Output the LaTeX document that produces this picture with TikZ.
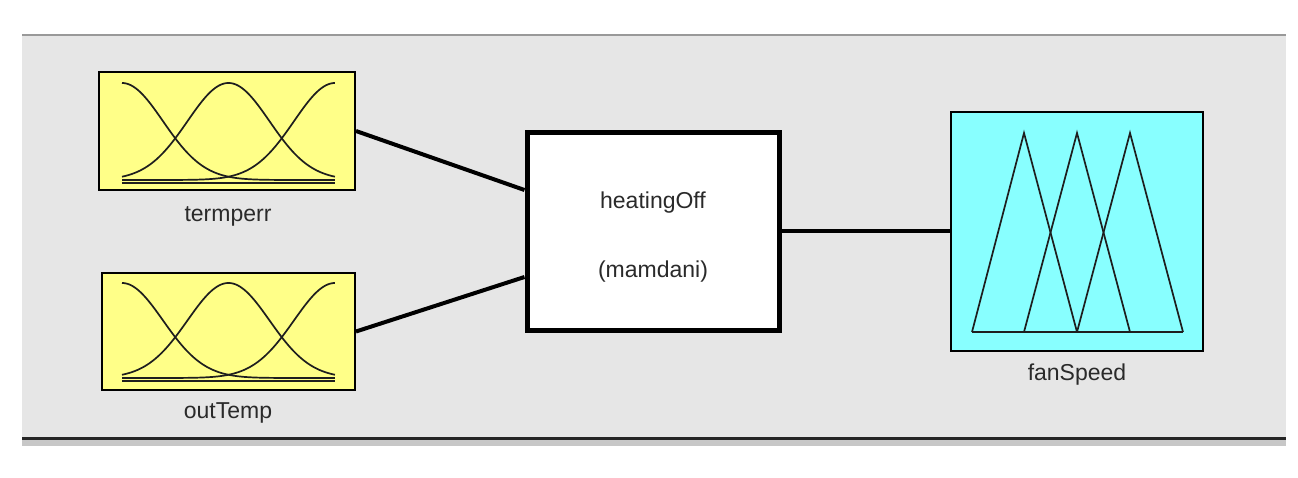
\documentclass[tikz,border=0pt]{standalone}
\usepackage{fontspec}
\setmainfont{Liberation Sans}
\definecolor{panelgray}{HTML}{E6E6E6}
\definecolor{inyel}{HTML}{FFFF88}
\definecolor{outcy}{HTML}{88FFFF}
\definecolor{txtc}{HTML}{2A2A2A}
\definecolor{mfc}{HTML}{1E1E1E}
\begin{document}
\begin{tikzpicture}[x=1pt,y=-1pt,
  varbox/.style={draw=black, line width=2pt, inner sep=0pt},
  rulebox/.style={draw=black, fill=white, line width=5pt, inner sep=0pt},
  conn/.style={line width=4pt, black},
  mf/.style={line width=1.7pt, mfc},
  lbl/.style={font=\fontsize{23}{26}\selectfont, text=txtc, inner sep=0pt, anchor=base}]
\fill[white] (0,0) rectangle (1298,478);
\useasboundingbox (0,0) rectangle (1298,478);
% panel
\fill[panelgray] (22,35) rectangle (1286,438);
\fill[black!22] (22,439) rectangle (1286,446);
\draw[black!40, line width=2pt] (22,35) -- (1286,35);
\draw[black!85, line width=2.2pt] (22,438.5) -- (1286,438.5);
% boxes
\node[varbox, fill=inyel, minimum width=256pt, minimum height=118pt] (termperr) at (227,131) {};
\node[varbox, fill=inyel, minimum width=253pt, minimum height=117pt] (outTemp) at (228.5,331.5) {};
\node[rulebox, minimum width=252pt, minimum height=197pt] (rule) at (653,231.5) {};
\node[varbox, fill=outcy, minimum width=252pt, minimum height=239pt] (fanSpeed) at (1077,231.5) {};
% membership functions: termperr
\foreach \c in {0,1,2}
  \draw[mf] plot[domain=0:2, samples=120, smooth] ({122+106.5*\x}, {180-97*exp(-((\x-\c)*(\x-\c))/0.296)});
\draw[mf] (122,183) -- (335,183);
% membership functions: outTemp
\foreach \c in {0,1,2}
  \draw[mf] plot[domain=0:2, samples=120, smooth] ({122+106.5*\x}, {378-95*exp(-((\x-\c)*(\x-\c))/0.296)});
\draw[mf] (122,381) -- (335,381);
% membership functions: fanSpeed
\draw[mf, line join=miter] (972,332) -- (1024,133) -- (1077,332);
\draw[mf, line join=miter] (1024,332) -- (1077,133) -- (1130,332);
\draw[mf, line join=miter] (1077,332) -- (1130,133) -- (1183,332);
\draw[mf] (972,332) -- (1183,332);
% connectors
\draw[conn] (termperr.east) -- ([yshift=41.5pt]rule.west);
\draw[conn] (outTemp.east) -- ([yshift=-45.5pt]rule.west);
\draw[conn] (rule.east) -- (fanSpeed.west);
\node[rulebox, minimum width=252pt, minimum height=197pt] at (rule) {};
% labels
\node[lbl] (termperrlbl) at (228,222) {termperr};
\node[lbl] (outTemplbl) at (228,418) {outTemp};
\node[lbl] (fanSpeedlbl) at (1077,380) {fanSpeed};
\node[lbl] (rulename) at (653,209) {heatingOff};
\node[lbl] (ruletype) at (653,277) {(mamdani)};
\end{tikzpicture}
\end{document}
